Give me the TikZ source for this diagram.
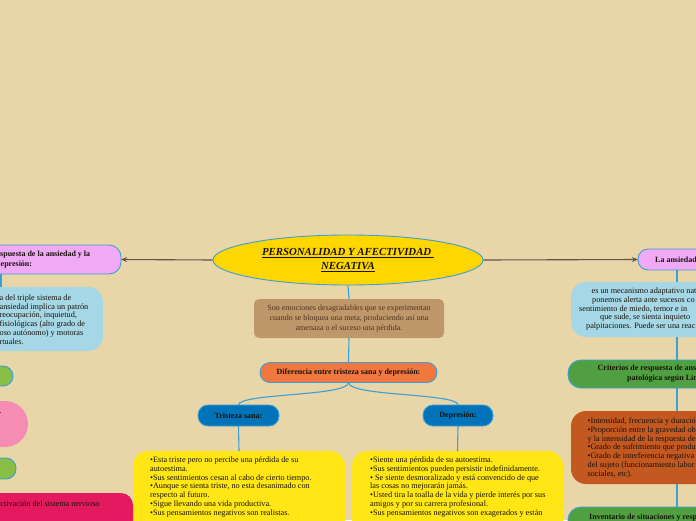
\documentclass[tikz,border=0pt]{standalone}
\usepackage{fontspec}
\setmainfont{Liberation Serif}
\usetikzlibrary{shapes.geometric,arrows.meta,calc}
\definecolor{bg}{RGB}{232,213,168}
\definecolor{linkblue}{RGB}{58,160,216}
\definecolor{arrowgray}{RGB}{95,85,75}
\definecolor{titleyellow}{RGB}{255,215,0}
\definecolor{brownbox}{RGB}{190,152,106}
\definecolor{browntext}{RGB}{80,50,30}
\definecolor{orangebox}{RGB}{240,120,64}
\definecolor{bluenode}{RGB}{0,115,185}
\definecolor{yellowbox}{RGB}{255,230,20}
\definecolor{violetnode}{RGB}{240,170,245}
\definecolor{lightblue}{RGB}{165,215,230}
\definecolor{lightgreen}{RGB}{135,190,70}
\definecolor{pinkbox}{RGB}{245,140,180}
\definecolor{crimson}{RGB}{228,25,95}
\definecolor{darkgreen}{RGB}{80,160,65}
\definecolor{rustbox}{RGB}{195,88,32}
\definecolor{ink}{RGB}{25,18,10}
\tikzset{
  conn/.style={draw=linkblue, line width=1.1pt},
  arr/.style={draw=arrowgray, line width=1.1pt, -{Stealth[length=6pt,width=5pt]}},
  shp/.style={rectangle, inner sep=0pt, outer sep=0pt},
  bordered/.style={draw=linkblue, line width=0.9pt},
  txt/.style={font=\fontsize{8.2}{8.8}\selectfont, text=ink, inner sep=0pt, align=left, anchor=north west},
  btxt/.style={font=\fontsize{8}{9.5}\selectfont\bfseries, text=ink, inner sep=0pt},
}
\begin{document}
\begin{tikzpicture}[x=1pt,y=-1pt]
\fill[bg] (0,0) rectangle (696,520);
\useasboundingbox (0,0) rectangle (696,520);
\clip (0,0) rectangle (696,520);

% ---- centre
\node[ellipse, fill=titleyellow, bordered, minimum width=270pt, minimum height=50pt, inner sep=0pt, align=center,
      font=\fontsize{10.8}{14}\selectfont\bfseries\itshape, text=ink] (title) at (348,260)
  {\underline{PERSONALIDAD Y AFECTIVIDAD\ }\\\underline{NEGATIVA}};

\node[shp, fill=brownbox, rounded corners=5pt, minimum width=190pt, minimum height=39pt, align=center,
      font=\fontsize{8}{9.8}\selectfont, text=browntext] (brown) at (349,318.5)
  {Son emociones desagradables que se experimentan\\cuando se bloquea una meta, produciendo así una\\amenaza o el suceso una pérdida.};

\node[shp, fill=orangebox, bordered, rounded corners=10pt, minimum width=177pt, minimum height=20pt, btxt] (diff) at (348.5,372.5)
  {Diferencia entre tristeza sana y depresión:};

\node[shp, fill=bluenode, bordered, rounded corners=10pt, minimum width=81pt, minimum height=21pt, btxt] (sana) at (238.5,415.5)
  {Tristeza sana:};
\node[shp, fill=bluenode, bordered, rounded corners=10pt, minimum width=70pt, minimum height=21pt, btxt] (depr) at (458,415.5)
  {Depresión:};

\node[shp, fill=yellowbox, rounded corners=15pt, minimum width=212pt, minimum height=90pt] (yl) at (239,496) {};
\node[txt] (yltxt) at (150,456.5)
  {•Esta triste pero no percibe una pérdida de su\\autoestima.\\•Sus sentimientos cesan al cabo de cierto tiempo.\\•Aunque se sienta triste, no esta desanimado con\\respecto al futuro.\\•Sigue llevando una vida productiva.\\•Sus pensamientos negativos son realistas.};

\node[shp, fill=yellowbox, rounded corners=15pt, minimum width=211pt, minimum height=90pt] (yr) at (457.5,496) {};
\node[txt] (yrtxt) at (370,456.5)
  {•Siente una pérdida de su autoestima.\\•Sus sentimientos pueden persistir indefinidamente.\\• Se siente desmoralizado y está convencido de que\\las cosas no mejorarán jamás.\\•Usted tira la toalla de la vida y pierde interés por sus\\amigos y por su carrera profesional.\\•Sus pensamientos negativos son exagerados y están};

% ---- left side
\node[shp, fill=violetnode, bordered, rounded corners=12pt, minimum width=171pt, minimum height=29pt] (vl) at (35.5,259.5) {};
\node[btxt, anchor=west] (vltxt1) at (0,254.5) {spuesta de la ansiedad y la};
\node[btxt, anchor=west] (vltxt2) at (0.5,265) {epresión:};

\node[shp, fill=lightblue, rounded corners=15pt, minimum width=163pt, minimum height=64pt] (lbl) at (21.5,319) {};
\node[txt] (lbltxt) at (-0.5,294.5)
  {a del triple sistema de\\ansiedad implica un patrón\\reocupación, inquietud,\\fisiológicas (alto grado de\\oso autónomo) y motoras\\rtuales.};

\node[shp, fill=lightgreen, bordered, rounded corners=10pt, minimum width=40pt, minimum height=20pt] (g1) at (-7,376) {};
\node[shp, fill=pinkbox, rounded corners=23pt, minimum width=70pt, minimum height=46pt] (pink) at (-7,424) {};
\node[txt, anchor=base west] (pinktxt) at (-0.5,413) {.};
\node[shp, fill=lightgreen, bordered, rounded corners=10pt, minimum width=40pt, minimum height=21pt] (g2) at (-4,468.5) {};

\node[shp, fill=crimson, rounded corners=12pt, minimum width=240pt, minimum height=45pt] (crim) at (13,515.5) {};
\node[txt, anchor=west, text=ink] (crimtxt) at (0.3,503.5) {ctivación del sistema nervioso};

% ---- right side
\node[shp, fill=violetnode, bordered, rounded corners=10pt, minimum width=120pt, minimum height=21pt] (vr) at (698,259.5) {};
\node[btxt, anchor=west] (vrtxt) at (655,259.5) {La ansiedad};

\node[shp, fill=lightblue, rounded corners=15pt, minimum width=180pt, minimum height=55pt] (lbr) at (661,309.5) {};
\node[txt, anchor=west] (lbr1) at (591.5,291.5) {es un mecanismo adaptativo natu};
\node[txt, anchor=west] (lbr2) at (592,300.3) {ponemos alerta ante sucesos co};
\node[txt, anchor=west] (lbr3) at (579,309.1) {sentimiento de miedo, temor e in};
\node[txt, anchor=west] (lbr4) at (600,317.9) {que sude, se sienta inquieto};
\node[txt, anchor=west] (lbr5) at (586,326.7) {palpitaciones. Puede ser una reac};

\node[shp, fill=darkgreen, bordered, rounded corners=13pt, minimum width=190pt, minimum height=28pt] (gr) at (663,374) {};
\node[btxt, anchor=west] (grtxt1) at (597.5,369) {Criterios de respuesta de ans};
\node[btxt, anchor=west] (grtxt2) at (627,378.5) {patológica según Lin};

\node[shp, fill=rustbox, rounded corners=15pt, minimum width=180pt, minimum height=73pt] (rust) at (661,447.5) {};
\node[txt] (rusttxt) at (587.5,417.5)
  {•Intensidad, frecuencia y duració\\•Proporción entre la gravedad ob\\y la intensidad de la respuesta de\\•Grado de sufrimiento que produ\\•Grado de interferencia negativa\\del sujeto (funcionamiento labor\\sociales, etc).};

\node[shp, fill=darkgreen, bordered, rounded corners=13pt, minimum width=190pt, minimum height=36pt] (gb) at (663,525) {};
\node[btxt, anchor=west] (gbtxt) at (589,517.5) {Inventario de situaciones y resp};

% ---- connectors
\coordinate (rx) at (677,0);
\coordinate (lx) at (1,0);
\draw[arr] (title.west) -- (vl.east);
\draw[arr] (title.east) -- (vr.west);
\draw[conn] (title.south) -- (brown.north);
\draw[conn] (brown.south) -- (diff.north);
\draw[conn] (diff.south) .. controls ($(diff.south)+(0,14)$) and ($(sana.north)+(0,-12)$) .. (sana.north);
\draw[conn] (diff.south) .. controls ($(diff.south)+(0,14)$) and ($(depr.north)+(0,-12)$) .. (depr.north);
\draw[conn] (sana.south) -- (yl.north);
\draw[conn] (depr.south) -- (yr.north);
\draw[conn] (vl.south -| lx) -- (lbl.north -| lx);
\draw[conn] (vr.south -| rx) -- (lbr.north -| rx);
\draw[conn] (lbr.south -| rx) -- (gr.north -| rx);
\draw[conn] (gr.south -| rx) -- (rust.north -| rx);
\draw[conn] (rust.south -| rx) -- (gb.north -| rx);
\end{tikzpicture}
\end{document}
